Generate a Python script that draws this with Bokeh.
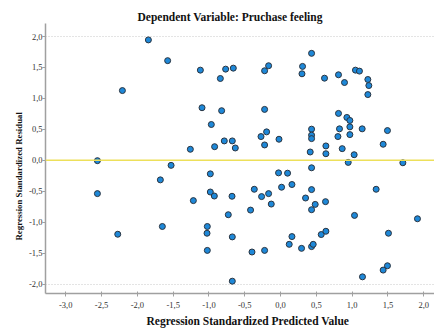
from bokeh.plotting import figure
from bokeh.models import Range1d, FixedTicker, Span, ColumnDataSource, Title
from bokeh.embed import file_html
from bokeh.resources import INLINE

# Regression standardized predicted value (x) and standardized residual (y)
predicted = [-1.846, -2.209, -1.577, -1.120, -0.767, -0.660, -0.841, -1.097, -0.823, -0.967,
             -1.260, -0.921, -0.786, -0.674, -0.632, -2.558, -1.529, -0.223, -0.167, 0.307,
             0.299, 0.433, 0.614, 0.809, 0.893, 1.046, 1.102, 1.219, 1.233, 1.219,
             -0.223, 0.809, 0.926, 0.968, 0.968, 1.140, 1.493, 0.823, 0.801, 0.968,
             0.433, 0.433, 0.433, -0.022, -0.195, -0.273, -0.223, 0.633, 0.633, 0.414,
             0.861, 1.028, 1.433, 0.945, 1.708, 0.433, -0.028, 0.098, -0.367, 0.014,
             0.159, 0.433, -0.265, -0.167, -0.130, 0.349, 0.484, 0.433, 0.628, -0.419,
             -0.678, 1.335, 1.033, 1.912, -0.674, 0.159, 0.121, 0.293, 0.433, 0.456,
             0.568, 0.633, 1.507, -0.399, -0.223, 1.433, 1.493, 1.144, -0.674, -1.679,
             -0.981, -2.558, -0.981, -0.925, -1.218, -0.730, -1.651, -1.023, -1.027, -2.274,
             -1.023]
residual = [1.945, 1.127, 1.610, 1.457, 1.473, 1.489, 1.322, 0.850, 0.802, 0.579,
            0.179, 0.221, 0.314, 0.314, 0.200, -0.005, -0.081, 1.447, 1.528, 1.517,
            1.398, 1.728, 1.327, 1.382, 1.257, 1.457, 1.441, 1.306, 1.208, 1.062,
            0.823, 0.758, 0.693, 0.644, 0.541, 0.509, 0.481, 0.509, 0.384, 0.416,
            0.504, 0.407, 0.351, 0.341, 0.460, 0.384, 0.249, 0.233, 0.107, 0.135,
            0.189, 0.091, 0.260, -0.033, -0.039, -0.120, -0.202, -0.207, -0.467, -0.434,
            -0.390, -0.472, -0.585, -0.537, -0.706, -0.608, -0.711, -0.797, -0.667, -0.803,
            -0.580, -0.467, -0.889, -0.943, -1.236, -1.231, -1.356, -1.421, -1.393, -1.356,
            -1.198, -1.145, -1.177, -1.480, -1.454, -1.772, -1.702, -1.881, -1.951, -0.315,
            -0.218, -0.537, -0.511, -0.576, -0.650, -0.878, -1.068, -1.068, -1.177, -1.193,
            -1.454]

x_ticks = [-3.0, -2.5, -2.0, -1.5, -1.0, -0.5, 0.0, 0.5, 1.0, 1.5, 2.0]
x_tick_labels = ["-3,0", "-2,5", "-2,0", "-1,5", "-1,0", "-0,5", "0,0", "0,5", "1,0", "1,5", "2,0"]
y_ticks = [-2.0, -1.5, -1.0, -0.5, 0.0, 0.5, 1.0, 1.5, 2.0]
y_tick_labels = ["-2,0", "-1,5", "-1,0", "-0,5", "0,0", "0,5", "1,0", "1,5", "2,0"]
grid_values = [-2.0, 2.0]
reference_value = 0.0

title_text = "Dependent Variable: Pruchase feeling"
x_label = "Regression Standardized Predicted Value"
y_label = "Regression Standardized Residual"

source = ColumnDataSource(data=dict(x=predicted, y=residual))

p = figure(width=434, height=328, output_backend="svg", toolbar_location=None,
           x_range=Range1d(-3.283, 2.15), y_range=Range1d(-2.15, 2.21),
           min_border_left=45, min_border_right=0, min_border_top=0, min_border_bottom=0)
p.title = None
p.outline_line_color = None
p.background_fill_color = "white"
p.border_fill_color = "white"

p.add_layout(Title(text=title_text, align="left", offset=92, standoff=2,
                   text_font="Liberation Serif", text_font_size="11.5px",
                   text_font_style="bold", text_color="#111111"), "above")
p.add_layout(Title(text=" ", text_font_size="4px", standoff=0), "above")

p.add_layout(Title(text=y_label, align="left", offset=53, standoff=6,
                   text_font="Liberation Serif", text_font_size="8.8px",
                   text_font_style="bold", text_color="#111111"), "left")

for ax, ticks, labels in ((p.xaxis[0], x_ticks, x_tick_labels), (p.yaxis[0], y_ticks, y_tick_labels)):
    ax.ticker = FixedTicker(ticks=ticks)
    ax.major_label_overrides = {t: l for t, l in zip(ticks, labels)}
    ax.axis_line_color = "#a0a0a0"
    ax.axis_line_width = 1.5
    ax.major_tick_line_color = "#a0a0a0"
    ax.major_tick_out = 3
    ax.major_tick_in = 0
    ax.minor_tick_line_color = None
    ax.major_label_text_font = "Liberation Serif"
    ax.major_label_text_font_size = "8.5px"
    ax.major_label_text_color = "#333333"

p.xaxis.major_tick_in = 2
p.xaxis.major_label_standoff = 5
p.yaxis.major_label_standoff = 0

p.add_layout(Title(text=x_label, align="left", offset=101, standoff=4,
                   text_font="Liberation Serif", text_font_size="11.5px",
                   text_font_style="bold", text_color="#111111"), "below")

p.xgrid.grid_line_color = None
p.ygrid.ticker = FixedTicker(ticks=grid_values)
p.ygrid.grid_line_color = "#c8c8c8"
p.ygrid.grid_line_dash = "1 2"
p.ygrid.grid_line_width = 1

p.add_layout(Span(location=reference_value, dimension="width", line_color="#ede05a", line_width=1.5))

p.scatter("x", "y", source=source, size=6, fill_color="#1e88d8", line_color="#2a3440", line_width=1)

open("out.html", "w").write(file_html(p, INLINE))
